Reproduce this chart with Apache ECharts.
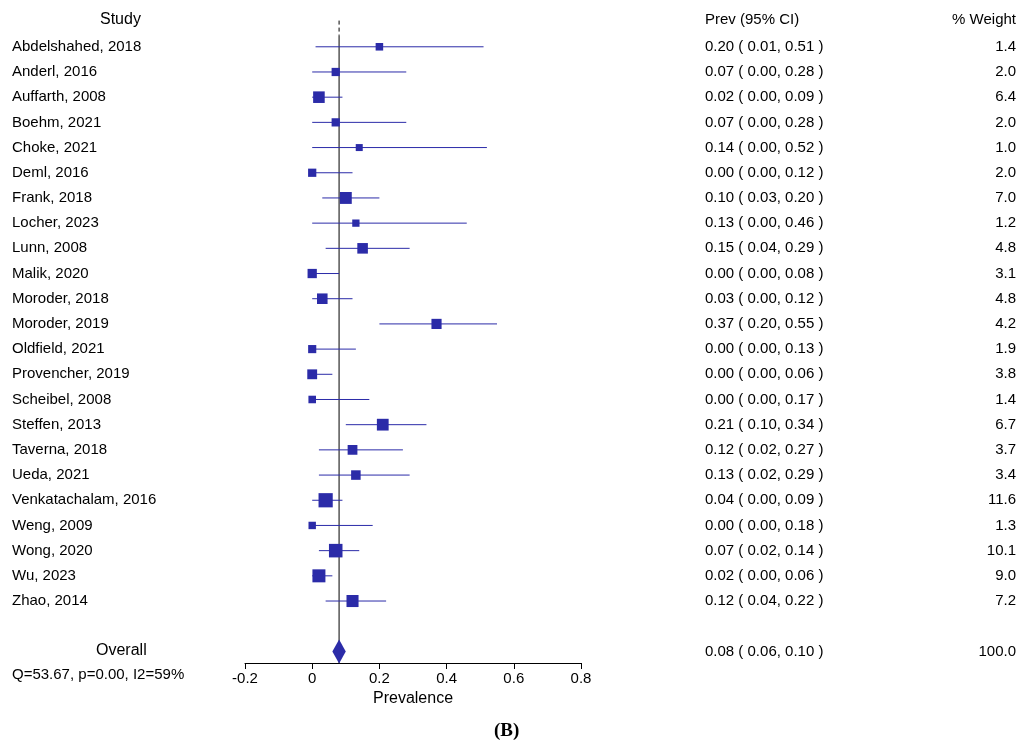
<!DOCTYPE html>
<html>
<head>
<meta charset="UTF-8">
<script src="https://cdn.jsdelivr.net/npm/echarts@6/dist/echarts.min.js"></script>
<style>html,body{margin:0;background:#fff}#c{width:1025px;height:753px}</style>
</head>
<body>
<div id="c"></div>
<script>
var studies = ['Abdelshahed, 2018','Anderl, 2016','Auffarth, 2008','Boehm, 2021','Choke, 2021','Deml, 2016','Frank, 2018','Locher, 2023','Lunn, 2008','Malik, 2020','Moroder, 2018','Moroder, 2019','Oldfield, 2021','Provencher, 2019','Scheibel, 2008','Steffen, 2013','Taverna, 2018','Ueda, 2021','Venkatachalam, 2016','Weng, 2009','Wong, 2020','Wu, 2023','Zhao, 2014'];
var prev  = [0.20,0.07,0.02,0.07,0.14,0.00,0.10,0.13,0.15,0.00,0.03,0.37,0.00,0.00,0.00,0.21,0.12,0.13,0.04,0.00,0.07,0.02,0.12];
var lower = [0.01,0.00,0.00,0.00,0.00,0.00,0.03,0.00,0.04,0.00,0.00,0.20,0.00,0.00,0.00,0.10,0.02,0.02,0.00,0.00,0.02,0.00,0.04];
var upper = [0.51,0.28,0.09,0.28,0.52,0.12,0.20,0.46,0.29,0.08,0.12,0.55,0.13,0.06,0.17,0.34,0.27,0.29,0.09,0.18,0.14,0.06,0.22];
var weight = [1.4,2.0,6.4,2.0,1.0,2.0,7.0,1.2,4.8,3.1,4.8,4.2,1.9,3.8,1.4,6.7,3.7,3.4,11.6,1.3,10.1,9.0,7.2];
var overall = {est: 0.08, lo: 0.06, hi: 0.10, weight: 100.0};
var hetText = 'Q=53.67, p=0.00, I2=59%';
var xTicks = [-0.2, 0, 0.2, 0.4, 0.6, 0.8];

var blue = '#2b2ba8';
var font = '"Liberation Sans", Arial, sans-serif';
var overallRow = 24;
function f(v){ return v.toFixed(2); }
function ci(p, l, u){ return f(p) + ' ( ' + f(l) + ', ' + f(u) + ' )'; }

var rows = studies.map(function(s, i){ return [i, prev[i], lower[i], upper[i], weight[i]]; });
var textRows = studies.map(function(s, i){ return [i, s, ci(prev[i], lower[i], upper[i]), weight[i].toFixed(1)]; });
textRows.push([overallRow, '', ci(overall.est, overall.lo, overall.hi), overall.weight.toFixed(1)]);

var chart = echarts.init(document.getElementById('c'));
chart.setOption({
  animation: false,
  textStyle: {fontFamily: font},
  grid: {left: 245, right: 444, top: 9, bottom: 90},
  xAxis: {
    type: 'value', min: -0.2, max: 0.8, interval: 0.2,
    name: 'Prevalence', nameLocation: 'middle', nameGap: 26,
    nameTextStyle: {fontSize: 16, color: '#000', fontFamily: font},
    axisLine: {onZero: false, lineStyle: {color: '#000'}},
    axisTick: {length: 6, lineStyle: {color: '#000'}},
    splitLine: {show: false},
    axisLabel: {fontSize: 15, color: '#000', margin: 8, fontFamily: font,
      formatter: function(v){ var r = Math.round(v*10)/10; return xTicks.indexOf(r) >= 0 ? String(r) : ''; }}
  },
  yAxis: {type: 'value', min: -1.5, max: 24.46, inverse: true, show: false},
  series: [
    {
      type: 'custom', data: [[0]], z: 1,
      renderItem: function(params, api){
        var top = api.coord([overall.est, -1.04]);
        var bot = api.coord([overall.est, 24.46]);
        var mid = api.coord([overall.est, -0.45]);
        return {type: 'group', children: [
          {type: 'line', shape: {x1: top[0], y1: top[1], x2: mid[0], y2: mid[1]}, style: {stroke: '#000', lineWidth: 1, lineDash: [4, 3]}},
          {type: 'line', shape: {x1: mid[0], y1: mid[1], x2: bot[0], y2: bot[1]}, style: {stroke: '#000', lineWidth: 1}}
        ]};
      }
    },
    {
      type: 'custom', data: rows, z: 2,
      renderItem: function(params, api){
        var y = api.value(0);
        var a = api.coord([api.value(2), y]), b = api.coord([api.value(3), y]), c = api.coord([api.value(1), y]);
        var s = 4 + 3 * Math.sqrt(api.value(4));
        return {type: 'group', children: [
          {type: 'line', shape: {x1: a[0], y1: a[1], x2: b[0], y2: b[1]}, style: {stroke: blue, lineWidth: 1}},
          {type: 'rect', shape: {x: c[0] - s/2, y: c[1] - s/2, width: s, height: s}, style: {fill: blue}}
        ]};
      }
    },
    {
      type: 'custom', data: [[overall.est, overall.lo, overall.hi]], z: 3,
      renderItem: function(params, api){
        var l = api.coord([overall.lo, overallRow]), r = api.coord([overall.hi, overallRow]), c = api.coord([overall.est, overallRow]);
        return {type: 'polygon', shape: {points: [[l[0], c[1]], [c[0], c[1] - 12], [r[0], c[1]], [c[0], c[1] + 12]]}, style: {fill: blue}};
      }
    },
    {
      type: 'custom', data: textRows.map(function(r){ return [r[0]]; }), z: 4, clip: false,
      renderItem: function(params, api){
        var r = textRows[params.dataIndex];
        var y = api.coord([0, r[0]])[1];
        var st = {fontSize: 15, fontFamily: font, fill: '#000', textVerticalAlign: 'middle'};
        return {type: 'group', children: [
          {type: 'text', x: 12, y: y, style: Object.assign({text: r[1], textAlign: 'left'}, st)},
          {type: 'text', x: 705, y: y, style: Object.assign({text: r[2], textAlign: 'left'}, st)},
          {type: 'text', x: 1016, y: y, style: Object.assign({text: r[3], textAlign: 'right'}, st)}
        ]};
      }
    }
  ],
  graphic: [
    {type: 'text', left: 100, top: 12, style: {text: 'Study', fontSize: 16, fontFamily: font, fill: '#000'}},
    {type: 'text', left: 705, top: 12, style: {text: 'Prev (95% CI)', fontSize: 15, fontFamily: font, fill: '#000'}},
    {type: 'text', right: 9, top: 12, style: {text: '% Weight', fontSize: 15, fontFamily: font, fill: '#000'}},
    {type: 'text', left: 96, top: 643, style: {text: 'Overall', fontSize: 16, fontFamily: font, fill: '#000'}},
    {type: 'text', left: 12, top: 667, style: {text: hetText, fontSize: 15, fontFamily: font, fill: '#000'}},
    {type: 'text', left: 494, top: 722, style: {text: '(B)', fontSize: 19, fontWeight: 'bold', fontFamily: '"Liberation Serif", serif', fill: '#000'}}
  ]
});
</script>
</body>
</html>
